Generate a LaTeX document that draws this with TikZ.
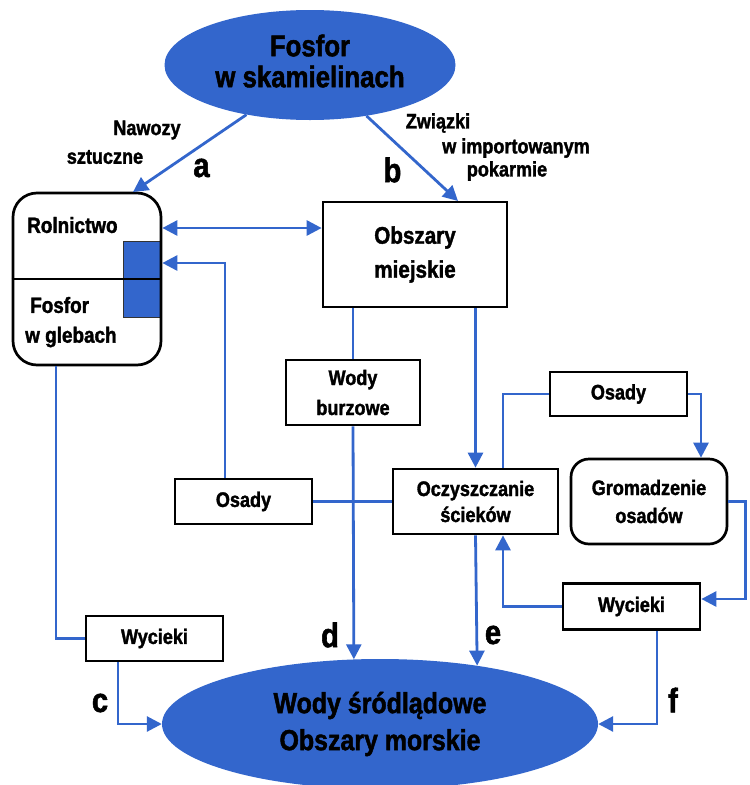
\documentclass[tikz,border=0pt]{standalone}
\usepackage{fontspec}
\setmainfont{Liberation Sans}[FakeStretch=0.86, BoldFeatures={FakeBold=1.6}]
\usetikzlibrary{shapes.geometric,arrows.meta}
\definecolor{pblue}{HTML}{3366CC}
\begin{document}
\begin{tikzpicture}[x=1pt,y=-1pt,
  tip/.tip={Triangle[length=15pt,width=15pt]},
  box/.style={draw=black, line width=2.7pt, fill=white, inner sep=0pt, align=center,
    font=\fontsize{21}{26}\selectfont\bfseries},
  ell/.style={ellipse, fill=pblue, inner sep=0pt, align=center},
  flow/.style={draw=pblue, line width=2.8pt, -tip},
  link/.style={draw=pblue, line width=2.8pt},
  lbl/.style={inner sep=0pt, font=\fontsize{21}{24}\selectfont\bfseries},
  big/.style={inner sep=0pt, font=\fontsize{34}{34}\selectfont\bfseries}]
\useasboundingbox (0,0) rectangle (750,785);
\fill[white] (0,0) rectangle (750,785);

% ellipses
\node[ell, minimum width=291pt, minimum height=110pt] (fos) at (310,65) {};
\node[inner sep=0pt, align=center, font=\fontsize{30}{31}\selectfont\bfseries] (fosT) at (310,61) {Fosfor\\w skamielinach};
\node[ell, minimum width=436pt, minimum height=130pt, font=\fontsize{29}{37}\selectfont\bfseries] (wod) at (380,724) {Wody śródlądowe\\Obszary morskie};

% agriculture box
\fill[pblue, draw=black!80, line width=0.8pt] (123,241) rectangle (161,317);
\node[box, fill=none, rounded corners=24pt, minimum width=148pt, minimum height=172pt] (agri) at (87,279) {};
\draw[line width=2.7pt] (agri.west) -- (agri.east);
\node[lbl, anchor=west, font=\fontsize{22}{24}\selectfont\bfseries] (rol) at (27,225) {Rolnictwo};
\node[lbl, anchor=west, font=\fontsize{22}{24}\selectfont\bfseries] (fg1) at (30,305) {Fosfor};
\node[lbl, anchor=west, font=\fontsize{22}{24}\selectfont\bfseries] (fg2) at (25,337) {w glebach};

% boxes
\node[box, minimum width=184pt, minimum height=105pt, font=\fontsize{24}{34}\selectfont\bfseries] (obs) at (415,254.5) {Obszary\\miejskie};
\node[box, minimum width=134pt, minimum height=65pt, font=\fontsize{21}{30}\selectfont\bfseries] (wb) at (353,392.5) {Wody\\burzowe};
\node[box, minimum width=137pt, minimum height=45pt] (osL) at (243.5,501.5) {Osady};
\node[box, minimum width=165pt, minimum height=65pt] (ocz) at (475.5,501.5) {Oczyszczanie\\ścieków};
\node[box, minimum width=137pt, minimum height=44pt] (osR) at (618.5,394) {Osady};
\node[box, rounded corners=18pt, minimum width=156pt, minimum height=85pt, font=\fontsize{21}{28}\selectfont\bfseries] (gro) at (649,501.5) {Gromadzenie\\osadów};
\node[box, minimum width=137pt, minimum height=46pt] (wyR) at (631.5,606.5) {Wycieki};
\node[box, minimum width=137pt, minimum height=45pt] (wyL) at (154.5,638.5) {Wycieki};

% free ends
\coordinate (aEnd) at (133,192);
\coordinate (bEnd) at (458,201);

% connectors
\draw[flow] (fos.218) -- (aEnd);
\draw[flow] (fos.318) -- (bEnd);
\draw[flow, tip-tip] ([yshift=51pt]agri.east) -- ([yshift=26.5pt]obs.west);
\draw[flow] ([xshift=-18.5pt]osL.north) |- ([yshift=16pt]agri.east);
\draw[link] (osL.east) -- (osL.east -| ocz.west);
\draw[link] (wb.north |- obs.south) -- (wb.north);
\draw[flow] (wb.south) -- (wod.112.7);
\draw[flow] (ocz.north |- obs.south) -- (ocz.north);
\draw[flow] (ocz.south) -- (wod.31.3);
\draw[link] ([xshift=27.5pt]ocz.north) |- (osR.west);
\draw[flow] (osR.east) -| ([xshift=52pt]gro.north);
\draw[flow] (gro.east) -- ++(17,0) |- ([yshift=7.5pt]wyR.east);
\draw[flow] (wyR.west) -| ([xshift=27.5pt]ocz.south);
\draw[flow] ([xshift=25.5pt]wyR.south) |- (wod.east);
\draw[link] ([xshift=-31pt]agri.south) |- (wyL.west);
\draw[flow] ([xshift=-36.5pt]wyL.south) |- (wod.west);

% labels
\node[lbl] (l1) at (147,130) {Nawozy};
\node[lbl] (l2) at (105,157) {sztuczne};
\node[lbl] (l3) at (438,123) {Związki};
\node[lbl] (l4) at (516,148) {w importowanym};
\node[lbl] (l5) at (507,171) {pokarmie};
\node[big] (la) at (201.5,168) {a};
\node[big] (lb) at (392.5,170) {b};
\node[big] (lc) at (100,703) {c};
\node[big] (ld) at (330,635) {d};
\node[big] (le) at (493,635) {e};
\node[big] (lf) at (673,700) {f};
\end{tikzpicture}
\end{document}
